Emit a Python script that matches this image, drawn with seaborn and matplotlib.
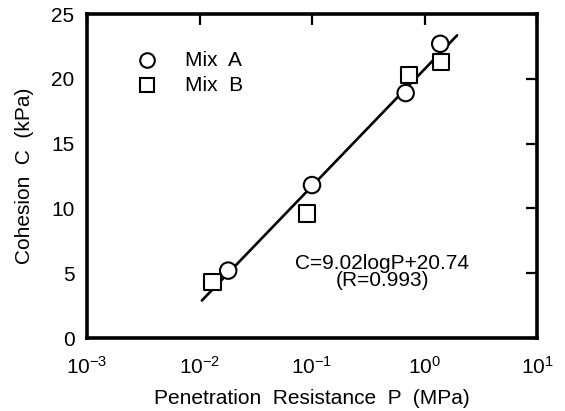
import numpy as np
import pandas as pd
import matplotlib
matplotlib.use("Agg")
import matplotlib.pyplot as plt
import seaborn as sns

# Penetration resistance P (MPa) and cohesion C (kPa)
mix_a_p = [0.018, 0.10, 0.68, 1.38]
mix_a_c = [5.2, 11.8, 18.9, 22.7]
mix_b_p = [0.013, 0.090, 0.73, 1.40]
mix_b_c = [4.3, 9.6, 20.3, 21.3]

# Regression C = a*logP + b
fit_a = 9.02
fit_b = 20.74
fit_r = 0.993
fit_p_range = [0.0105, 1.95]

x_ticks = [1e-3, 1e-2, 1e-1, 1e0, 1e1]
y_ticks = [0, 5, 10, 15, 20, 25]

sns.set_theme(style="white")
plt.rcParams["font.family"] = ["Liberation Sans", "DejaVu Sans"]
plt.rcParams["mathtext.fontset"] = "custom"
plt.rcParams["mathtext.rm"] = "Liberation Sans"
plt.rcParams["mathtext.it"] = "Liberation Sans"
plt.rcParams["text.color"] = "black"
plt.rcParams["axes.labelcolor"] = "black"

FS = 15

df = pd.DataFrame({
    "P": mix_a_p + mix_b_p,
    "C": mix_a_c + mix_b_c,
    "mix": ["Mix  A"] * len(mix_a_p) + ["Mix  B"] * len(mix_b_p),
})

fit_p = np.logspace(np.log10(fit_p_range[0]), np.log10(fit_p_range[1]), 50)
fit_df = pd.DataFrame({"P": fit_p, "C": fit_a * np.log10(fit_p) + fit_b})

fig = plt.figure(figsize=(5.65, 4.11), dpi=100)
ax = fig.add_axes([87 / 565, 1 - 338 / 411, (537 - 87) / 565, (338 - 14) / 411])

sns.lineplot(data=fit_df, x="P", y="C", ax=ax, color="black", linewidth=1.9)
sns.scatterplot(data=df, x="P", y="C", style="mix", markers={"Mix  A": "o", "Mix  B": "s"},
                ax=ax, s=140, facecolor="white", edgecolor="black", linewidth=1.5,
                legend=False, zorder=3)

ax.set_xscale("log")
ax.set_xlim(1e-3, 1e1)
ax.set_ylim(0, 25)
ax.set_xticks(x_ticks)
ax.set_yticks(y_ticks)
ax.xaxis.set_minor_locator(matplotlib.ticker.NullLocator())
ax.set_xticklabels([f"$10^{{{int(np.log10(t))}}}$" for t in x_ticks])
ax.tick_params(which="major", direction="in", length=8, width=1.6, top=True, right=True,
               labelsize=FS, colors="black")
ax.tick_params(axis="x", pad=13)
ax.tick_params(axis="y", pad=9)
for sp in ax.spines.values():
    sp.set_linewidth(2.6)
    sp.set_color("black")

ax.set_xlabel("Penetration  Resistance  P  (MPa)", fontsize=FS, labelpad=8)
ax.set_ylabel("Cohesion  C  (kPa)", fontsize=FS, labelpad=12)

# Legend drawn as marker + label pairs
ax.plot([0.0034], [21.45], "o", ms=10.5, mfc="white", mec="black", mew=1.5)
ax.plot([0.0034], [19.5], "s", ms=10, mfc="white", mec="black", mew=1.5)
ax.text(0.0074, 21.45, "Mix  A", fontsize=FS, va="center")
ax.text(0.0074, 19.5, "Mix  B", fontsize=FS, va="center")

ax.text(0.42, 5.75, f"C={fit_a:.2f}logP+{fit_b:.2f}", fontsize=FS, ha="center", va="center")
ax.text(0.42, 4.4, f"(R={fit_r:.3f})", fontsize=FS, ha="center", va="center")

fig.savefig("out.png", dpi=100)
